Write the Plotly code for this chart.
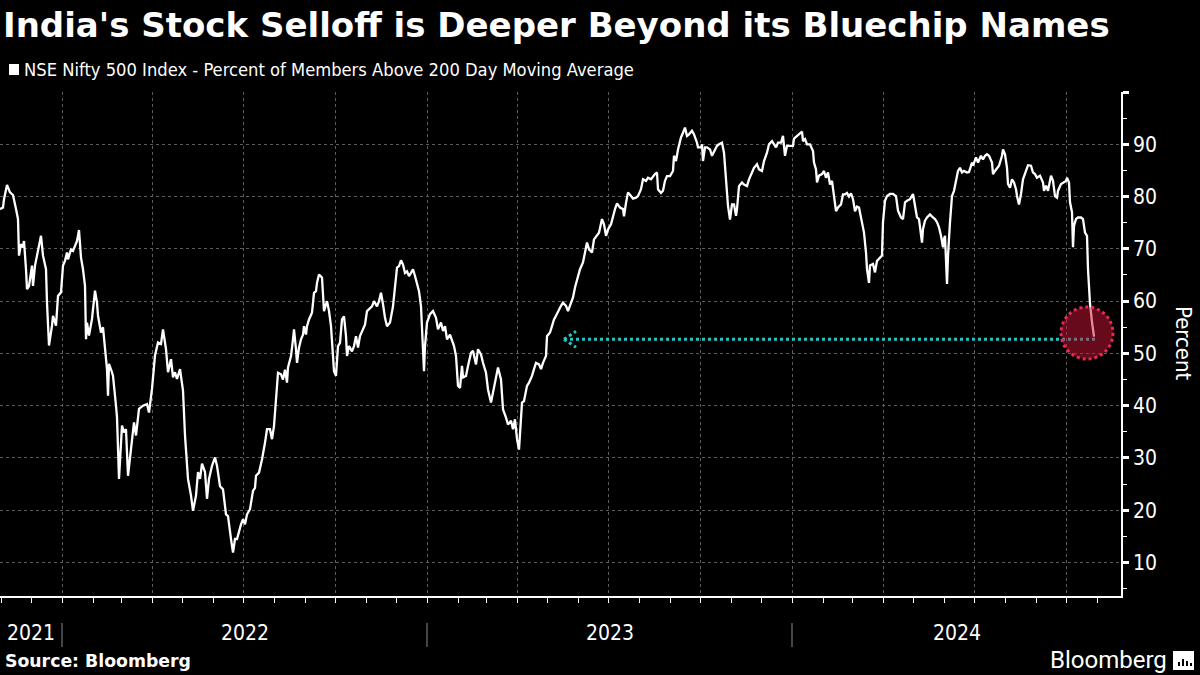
import plotly.graph_objects as go
import pandas as pd

# ---------------- data ----------------
dates = [
    "2021-10-31","2021-11-03","2021-11-04","2021-11-07","2021-11-10","2021-11-13","2021-11-16","2021-11-18",
    "2021-11-19","2021-11-21","2021-11-23","2021-11-24","2021-11-26","2021-11-27","2021-11-29","2021-12-02",
    "2021-12-03","2021-12-05","2021-12-07","2021-12-11","2021-12-13","2021-12-16","2021-12-17","2021-12-19",
    "2021-12-22","2021-12-23","2021-12-26","2021-12-28","2021-12-31","2022-01-02","2022-01-04","2022-01-06",
    "2022-01-07","2022-01-10","2022-01-12","2022-01-16","2022-01-18","2022-01-20","2022-01-22","2022-01-24",
    "2022-01-25","2022-01-26","2022-01-28","2022-01-31","2022-02-03","2022-02-05","2022-02-06","2022-02-09",
    "2022-02-11","2022-02-13","2022-02-15","2022-02-16","2022-02-17","2022-02-20","2022-02-21","2022-02-24",
    "2022-02-25","2022-02-27","2022-03-02","2022-03-04","2022-03-06","2022-03-08","2022-03-12","2022-03-14",
    "2022-03-16","2022-03-19","2022-03-23","2022-03-27","2022-03-29","2022-04-01","2022-04-04","2022-04-07",
    "2022-04-10","2022-04-12","2022-04-15","2022-04-17","2022-04-20","2022-04-22","2022-04-24","2022-04-26",
    "2022-04-29","2022-05-02","2022-05-04","2022-05-07","2022-05-10","2022-05-12","2022-05-15","2022-05-17",
    "2022-05-19","2022-05-21","2022-05-24","2022-05-26","2022-05-28","2022-05-31","2022-06-03","2022-06-05",
    "2022-06-08","2022-06-11","2022-06-14","2022-06-16","2022-06-19","2022-06-21","2022-06-23","2022-06-25",
    "2022-06-29","2022-07-01","2022-07-03","2022-07-05","2022-07-08","2022-07-11","2022-07-13","2022-07-14",
    "2022-07-17","2022-07-20","2022-07-23","2022-07-25","2022-07-28","2022-07-30","2022-08-01","2022-08-04",
    "2022-08-05","2022-08-08","2022-08-10","2022-08-12","2022-08-14","2022-08-15","2022-08-18","2022-08-20",
    "2022-08-21","2022-08-23","2022-08-24","2022-08-26","2022-08-28","2022-08-30","2022-08-31","2022-09-02",
    "2022-09-03","2022-09-05","2022-09-08","2022-09-10","2022-09-12","2022-09-13","2022-09-15","2022-09-18",
    "2022-09-20","2022-09-23","2022-09-25","2022-09-27","2022-09-29","2022-09-30","2022-10-02","2022-10-04",
    "2022-10-06","2022-10-08","2022-10-10","2022-10-12","2022-10-13","2022-10-15","2022-10-18","2022-10-20",
    "2022-10-22","2022-10-24","2022-10-26","2022-10-29","2022-10-31","2022-11-02","2022-11-04","2022-11-07",
    "2022-11-09","2022-11-12","2022-11-14","2022-11-16","2022-11-18","2022-11-20","2022-11-22","2022-11-25",
    "2022-11-28","2022-11-30","2022-12-02","2022-12-04","2022-12-06","2022-12-08","2022-12-10","2022-12-12",
    "2022-12-14","2022-12-16","2022-12-18","2022-12-20","2022-12-22","2022-12-24","2022-12-26","2022-12-28",
    "2022-12-29","2022-12-30","2023-01-01","2023-01-04","2023-01-07","2023-01-10","2023-01-12","2023-01-15",
    "2023-01-17","2023-01-19","2023-01-21","2023-01-24","2023-01-27","2023-01-28","2023-01-30","2023-02-01",
    "2023-02-03","2023-02-05","2023-02-06","2023-02-09","2023-02-11","2023-02-14","2023-02-16","2023-02-19",
    "2023-02-21","2023-02-24","2023-02-26","2023-03-01","2023-03-03","2023-03-06","2023-03-08","2023-03-11",
    "2023-03-13","2023-03-16","2023-03-18","2023-03-21","2023-03-23","2023-03-26","2023-03-28","2023-03-30",
    "2023-04-01","2023-04-03","2023-04-06","2023-04-08","2023-04-11","2023-04-13","2023-04-16","2023-04-18",
    "2023-04-20","2023-04-23","2023-04-25","2023-04-27","2023-04-30","2023-05-01","2023-05-04","2023-05-06",
    "2023-05-08","2023-05-10","2023-05-12","2023-05-15","2023-05-17","2023-05-20","2023-05-22","2023-05-25",
    "2023-05-27","2023-05-29","2023-05-31","2023-06-03","2023-06-06","2023-06-08","2023-06-10","2023-06-12",
    "2023-06-15","2023-06-17","2023-06-20","2023-06-22","2023-06-25","2023-06-27","2023-06-29","2023-07-01",
    "2023-07-04","2023-07-06","2023-07-08","2023-07-10","2023-07-13","2023-07-16","2023-07-17","2023-07-19",
    "2023-07-21","2023-07-24","2023-07-26","2023-07-29","2023-07-31","2023-08-03","2023-08-05","2023-08-08",
    "2023-08-10","2023-08-13","2023-08-15","2023-08-17","2023-08-19","2023-08-20","2023-08-23","2023-08-25",
    "2023-08-27","2023-08-29","2023-09-01","2023-09-04","2023-09-05","2023-09-07","2023-09-09","2023-09-12",
    "2023-09-14","2023-09-16","2023-09-18","2023-09-20","2023-09-23","2023-09-25","2023-09-28","2023-09-29",
    "2023-10-02","2023-10-03","2023-10-04","2023-10-06","2023-10-08","2023-10-11","2023-10-13","2023-10-15",
    "2023-10-18","2023-10-20","2023-10-23","2023-10-25","2023-10-27","2023-10-29","2023-10-31","2023-11-02",
    "2023-11-04","2023-11-06","2023-11-07","2023-11-09","2023-11-12","2023-11-14","2023-11-17","2023-11-19",
    "2023-11-22","2023-11-24","2023-11-27","2023-11-29","2023-12-02","2023-12-04","2023-12-07","2023-12-09",
    "2023-12-12","2023-12-14","2023-12-16","2023-12-18","2023-12-21","2023-12-23","2023-12-24","2023-12-25",
    "2023-12-27","2023-12-30","2024-01-02","2024-01-03","2024-01-06","2024-01-08","2024-01-11","2024-01-12",
    "2024-01-14","2024-01-16","2024-01-19","2024-01-22","2024-01-23","2024-01-25","2024-01-26","2024-01-28",
    "2024-01-31","2024-02-02","2024-02-04","2024-02-06","2024-02-08","2024-02-10","2024-02-12","2024-02-14",
    "2024-02-16","2024-02-19","2024-02-21","2024-02-23","2024-02-25","2024-02-27","2024-02-29","2024-03-02",
    "2024-03-04","2024-03-06","2024-03-08","2024-03-11","2024-03-13","2024-03-15","2024-03-16","2024-03-18",
    "2024-03-19","2024-03-22","2024-03-24","2024-03-26","2024-03-29","2024-03-31","2024-04-01","2024-04-03",
    "2024-04-05","2024-04-08","2024-04-11","2024-04-14","2024-04-16","2024-04-19","2024-04-21","2024-04-23",
    "2024-04-25","2024-04-28","2024-05-01","2024-05-03","2024-05-05","2024-05-07","2024-05-10","2024-05-11",
    "2024-05-13","2024-05-15","2024-05-18","2024-05-21","2024-05-23","2024-05-25","2024-05-27","2024-05-29",
    "2024-05-31","2024-06-01","2024-06-02","2024-06-04","2024-06-05","2024-06-07","2024-06-09","2024-06-11",
    "2024-06-13","2024-06-15","2024-06-17","2024-06-19","2024-06-21","2024-06-24","2024-06-26","2024-06-29",
    "2024-06-30","2024-07-03","2024-07-05","2024-07-08","2024-07-10","2024-07-12","2024-07-14","2024-07-16",
    "2024-07-19","2024-07-20","2024-07-22","2024-07-24","2024-07-26","2024-07-29","2024-07-30","2024-08-01",
    "2024-08-03","2024-08-04","2024-08-06","2024-08-08","2024-08-10","2024-08-12","2024-08-13","2024-08-15",
    "2024-08-17","2024-08-19","2024-08-22","2024-08-24","2024-08-27","2024-08-29","2024-08-31","2024-09-02",
    "2024-09-05","2024-09-08","2024-09-09","2024-09-11","2024-09-13","2024-09-16","2024-09-18","2024-09-20",
    "2024-09-22","2024-09-23","2024-09-26","2024-09-28","2024-10-01","2024-10-02","2024-10-04","2024-10-05",
    "2024-10-07","2024-10-08","2024-10-09","2024-10-11","2024-10-13","2024-10-16","2024-10-18","2024-10-20",
    "2024-10-22","2024-10-23","2024-10-25","2024-10-27","2024-10-28","2024-10-29",
]

values = [
    77.6,77.9,79.5,82.2,80.8,80.3,77.6,75.7,
    68.7,70.9,70.3,71.5,66.1,62.3,62.9,66.8,
    62.9,66.8,68.7,72.5,68.7,66.1,59.7,51.5,
    55.3,57.2,55.3,61.0,61.7,66.8,67.7,69.3,
    68.0,69.9,69.6,71.5,73.6,68.3,66.1,62.9,
    52.7,55.9,53.4,56.6,62.0,59.7,57.2,54.0,
    55.0,51.5,47.0,41.9,48.0,46.4,45.7,40.0,
    37.8,26.0,36.2,34.9,35.5,26.6,33.0,36.8,
    34.3,39.4,40.0,40.3,38.7,43.2,49.6,52.1,
    51.8,54.6,50.8,46.4,48.9,45.4,46.4,45.1,
    47.0,42.9,34.3,26.0,22.8,19.9,22.8,27.3,
    26.0,28.9,27.3,22.2,26.0,28.5,30.1,28.5,
    24.6,24.0,19.2,18.9,14.5,11.9,14.5,14.5,
    17.3,18.3,17.3,19.2,20.2,23.7,24.3,26.6,
    27.2,29.7,32.9,35.5,35.5,33.6,36.1,43.8,
    46.3,46.0,45.0,46.9,44.4,47.3,49.5,52.7,
    54.6,50.8,48.2,51.1,52.7,53.6,55.2,53.6,
    55.2,56.5,57.8,61.6,61.9,63.5,65.1,64.5,
    58.1,60.0,58.1,55.2,47.6,46.6,45.7,51.4,
    52.0,56.5,57.1,53.3,49.5,51.4,50.4,51.4,
    53.3,51.1,53.3,54.6,55.5,58.1,58.4,59.0,
    60.0,59.0,60.0,61.6,59.4,56.8,55.2,55.9,
    59.0,63.5,66.4,66.7,67.8,67.0,65.4,65.7,
    64.8,65.4,66.1,64.8,63.5,61.9,59.0,50.8,
    46.6,51.4,55.9,57.5,58.1,56.8,54.6,55.9,
    54.3,55.2,52.7,53.6,52.1,51.4,49.5,43.8,
    43.4,47.6,45.4,45.7,47.6,50.1,50.5,47.9,
    50.8,49.8,48.2,46.3,43.1,40.6,42.5,45.7,
    47.3,45.0,39.3,37.7,36.4,37.1,35.5,37.4,
    33.6,31.6,40.6,40.9,43.8,44.4,45.7,47.0,
    48.2,47.9,47.0,48.2,49.5,53.3,54.0,55.2,
    56.5,57.2,58.1,59.1,59.7,59.1,58.1,59.7,
    60.7,62.6,64.2,66.1,67.4,69.3,71.2,69.9,
    69.3,71.8,72.5,73.1,75.7,74.7,72.5,73.7,
    74.7,76.3,77.6,78.7,77.9,77.6,76.2,78.8,
    80.8,80.1,79.6,79.8,80.1,81.4,83.3,83.0,
    83.6,83.3,83.9,84.3,84.6,81.4,80.7,81.1,
    83.0,83.9,83.9,84.9,87.8,86.8,89.0,91.3,
    92.2,93.2,91.6,91.9,92.6,91.9,90.3,89.4,
    89.4,90.0,86.8,89.4,89.4,89.0,87.8,88.7,
    89.7,90.0,90.3,88.4,83.0,78.2,75.6,78.5,
    78.5,76.3,77.6,82.0,82.7,82.3,82.0,83.3,
    84.6,85.5,86.2,85.2,84.9,86.8,88.4,90.0,
    90.6,90.0,89.4,90.3,90.3,91.6,89.0,87.8,
    89.7,89.7,89.7,91.1,91.6,91.9,92.4,90.6,
    91.0,90.0,90.0,88.7,86.5,85.2,82.7,84.0,
    84.3,84.9,83.6,84.6,82.3,83.0,80.1,77.2,
    77.9,78.5,80.4,80.4,80.7,80.0,80.6,79.5,
    77.2,78.1,77.9,74.7,73.1,69.3,66.1,63.5,
    66.8,67.1,65.5,67.7,68.4,68.7,75.1,79.2,
    80.1,80.5,80.5,80.1,77.3,76.0,75.7,78.9,
    79.2,79.5,80.5,78.5,76.0,75.7,71.2,73.8,
    75.4,76.0,76.6,76.0,75.7,75.1,74.1,72.5,
    70.3,71.9,72.5,63.3,68.7,75.1,80.1,81.1,
    83.0,84.9,85.5,84.6,84.9,84.6,84.7,86.5,
    85.9,87.5,86.5,87.8,87.1,87.8,88.1,87.8,
    86.5,84.3,84.9,85.5,85.9,87.8,89.0,88.1,
    85.5,82.4,81.7,83.3,82.7,81.4,80.1,78.5,
    80.5,83.3,85.2,86.0,85.9,84.6,84.3,83.6,
    84.0,82.7,81.1,82.1,81.1,84.0,83.0,80.1,
    79.8,81.1,82.4,82.7,83.0,83.6,82.7,78.9,
    77.0,70.3,74.4,75.7,76.0,76.0,75.7,73.1,
    72.5,66.1,59.5,56.0,54.5,53.2,
]

title_text = "India's Stock Selloff is Deeper Beyond its Bluechip Names"
series_name = "NSE Nifty 500 Index - Percent of Members Above 200 Day Moving Average"
source_text = "Source: Bloomberg"
brand_text = "Bloomberg"
y_title = "Percent"
y_tickvals = [10, 20, 30, 40, 50, 60, 70, 80, 90, 100]
y_ticktext = ["10", "20", "30", "40", "50", "60", "70", "80", "90", ""]
year_labels = ["2021", "2022", "2023", "2024"]
x_range = ["2021-10-31", "2024-11-25"]
y_range = [3.6, 100]

# annotation anchors (data space)
arrow_from = "2024-10-30"
arrow_to = "2023-05-18"
arrow_level = 52.7
circle_date = "2024-10-22"
circle_level = 53.9

# ---------------- figure ----------------
W, H = 1200, 675
ML, MR, MT, MB = 0, 79, 92, 79
PW, PH = W - ML - MR, H - MT - MB

def px_x(p):
    return (p - ML) / PW

def px_y(p):
    return (H - MB - p) / PH

COND = "DejaVu Sans Condensed, Liberation Sans Narrow, Roboto Condensed, Roboto, sans-serif"
BOLD = "DejaVu Sans, Verdana, sans-serif"
GRID = "#5c5c5c"

fig = go.Figure()
fig.add_trace(go.Scatter(
    x=dates, y=values, mode="lines", name=series_name,
    line=dict(color="white", width=2.3), showlegend=False,
    hoverinfo="x+y",
))

shapes = []
annotations = []

# year separators under axis + centred year labels
r0, r1 = pd.Timestamp(x_range[0]), pd.Timestamp(x_range[1])
for yr in year_labels:
    a = max(r0, pd.Timestamp(f"{yr}-01-01"))
    b = min(r1, pd.Timestamp(f"{int(yr) + 1}-01-01"))
    mid = a + (b - a) / 2
    annotations.append(dict(
        x=mid, xref="x", y=px_y(633), yref="paper", text=yr, showarrow=False,
        xanchor="center", yanchor="middle",
        font=dict(family=COND, size=21, color="white"),
    ))
    if pd.Timestamp(f"{yr}-01-01") > r0:
        shapes.append(dict(
            type="line", xref="x", yref="paper",
            x0=f"{yr}-01-01", x1=f"{yr}-01-01", y0=px_y(623), y1=px_y(647),
            line=dict(color="#8a8a8a", width=1),
        ))

# cyan dotted arrow
cyan = "#22c6c6"
shapes.append(dict(type="line", xref="x", yref="y", x0=arrow_from, x1=arrow_to,
                   y0=arrow_level, y1=arrow_level, layer="above",
                   line=dict(color=cyan, width=3, dash="dot")))
for dy in (8, -8):
    shapes.append(dict(type="line", xref="x", yref="y",
                       xsizemode="pixel", ysizemode="pixel",
                       xanchor=arrow_to, yanchor=arrow_level,
                       x0=0, x1=12, y0=0, y1=dy, layer="above",
                       line=dict(color=cyan, width=3, dash="dot")))

# red highlight circle
shapes.append(dict(type="circle", xref="x", yref="y",
                   xsizemode="pixel", ysizemode="pixel",
                   xanchor=circle_date, yanchor=circle_level,
                   x0=-26, x1=26, y0=-26, y1=26, layer="above",
                   fillcolor="rgba(205,22,55,0.5)",
                   line=dict(color="#e82a52", width=3, dash="dot")))

# legend square
shapes.append(dict(type="rect", xref="paper", yref="paper",
                   x0=px_x(9), x1=px_x(19), y0=px_y(75), y1=px_y(64),
                   fillcolor="white", line=dict(width=0)))

# Bloomberg icon
shapes.append(dict(type="rect", xref="paper", yref="paper",
                   x0=px_x(1173), x1=px_x(1194), y0=px_y(670), y1=px_y(651),
                   fillcolor="white", line=dict(width=0)))
for bx, btop in ((1178, 662), (1182, 659), (1186, 661), (1190, 663)):
    shapes.append(dict(type="rect", xref="paper", yref="paper",
                       x0=px_x(bx), x1=px_x(bx + 2), y0=px_y(666), y1=px_y(btop),
                       fillcolor="black", line=dict(width=0)))

annotations += [
    dict(x=px_x(1), y=px_y(25), xref="paper", yref="paper", text=f"<b>{title_text}</b>",
         showarrow=False, xanchor="left", yanchor="middle",
         font=dict(family=BOLD, size=34, color="white")),
    dict(x=px_x(22), y=px_y(70), xref="paper", yref="paper", text=series_name,
         showarrow=False, xanchor="left", yanchor="middle",
         font=dict(family=COND, size=18.2, color="white")),
    dict(x=px_x(3), y=px_y(661), xref="paper", yref="paper", text=f"<b>{source_text}</b>",
         showarrow=False, xanchor="left", yanchor="middle",
         font=dict(family=BOLD, size=17.3, color="white")),
    dict(x=px_x(1169), y=px_y(660), xref="paper", yref="paper", text=brand_text,
         showarrow=False, xanchor="right", yanchor="middle",
         font=dict(family="Roboto, sans-serif", size=24, color="white")),
    dict(x=px_x(1184), y=px_y(343), xref="paper", yref="paper", text=y_title,
         showarrow=False, xanchor="center", yanchor="middle", textangle=90,
         font=dict(family=COND, size=22, color="white")),
]

fig.update_layout(
    width=W, height=H, autosize=False,
    margin=dict(l=ML, r=MR, t=MT, b=MB),
    paper_bgcolor="black", plot_bgcolor="black",
    shapes=shapes, annotations=annotations,
    showlegend=False,
    xaxis=dict(
        type="date", range=x_range, showticklabels=False,
        tick0="2022-01-01", dtick="M3",
        showgrid=True, gridcolor=GRID, gridwidth=1, griddash="dot",
        ticks="outside", ticklen=5, tickcolor="white", tickwidth=1,
        minor=dict(dtick="M1", tick0="2021-11-01", ticks="outside", ticklen=5,
                   tickcolor="white", tickwidth=1, showgrid=False),
        showline=True, linecolor="white", linewidth=1.5,
        zeroline=False, fixedrange=True,
    ),
    yaxis=dict(
        side="right", range=y_range,
        tickmode="array", tickvals=y_tickvals, ticktext=y_ticktext,
        showgrid=True, gridcolor=GRID, gridwidth=1, griddash="dot",
        ticks="outside", ticklen=6, tickwidth=2.5, tickcolor="white",
        minor=dict(tickvals=[5, 15, 25, 35, 45, 55, 65, 75, 85, 95],
                   ticks="outside", ticklen=4, tickwidth=1, tickcolor="white",
                   showgrid=False),
        tickfont=dict(family=COND, size=21, color="white"),
        showline=True, linecolor="white", linewidth=1.5,
        zeroline=False, fixedrange=True,
    ),
)

fig.write_html(
    "out.html",
    config={"displayModeBar": False},
    post_script="document.body.style.margin='0';document.body.style.background='black';",
)
